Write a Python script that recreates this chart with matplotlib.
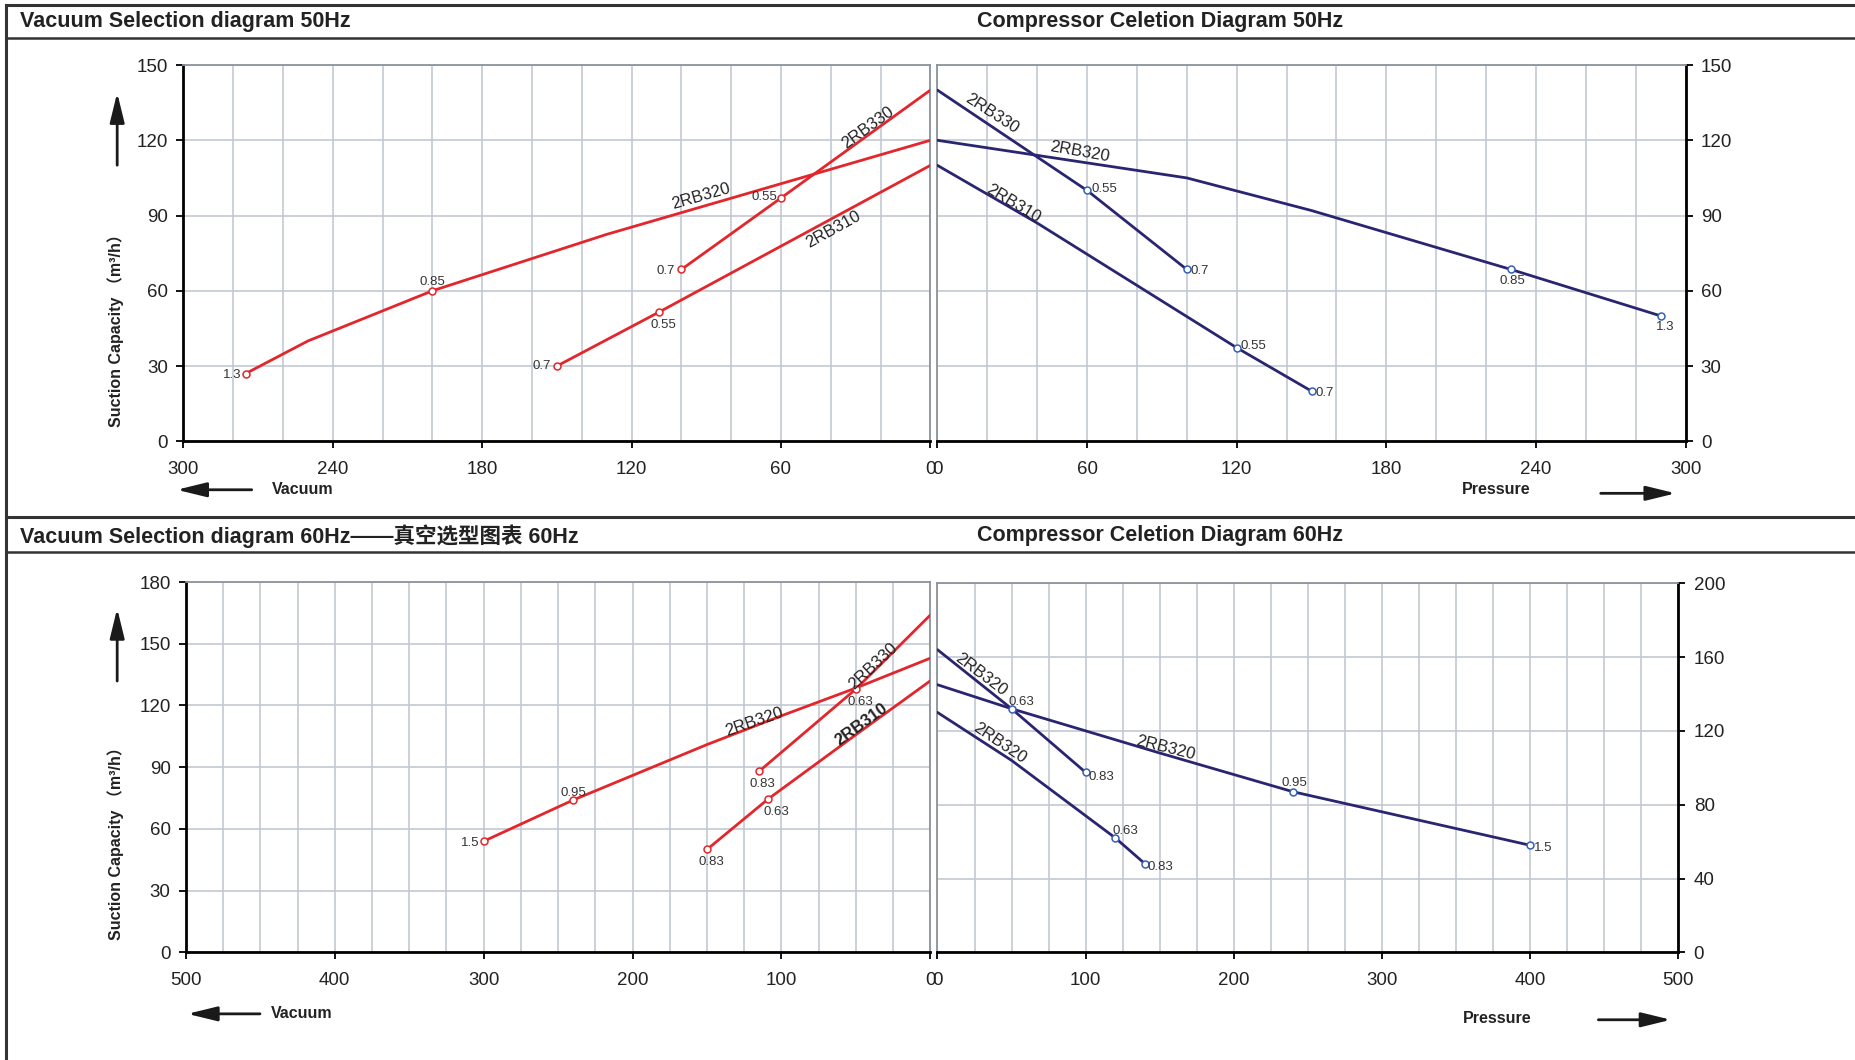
import matplotlib
matplotlib.use("Agg")
import matplotlib.pyplot as plt
from matplotlib.lines import Line2D
from matplotlib.patches import FancyArrowPatch

plt.rcParams['font.family'] = ['Liberation Sans', 'Noto Sans CJK SC', 'DejaVu Sans']

# ---- data ----
# 50 Hz vacuum (x = vacuum, y = suction capacity m3/h)
vac50_rb320_x = [275, 250, 200, 130, 0]
vac50_rb320_y = [27, 40, 60, 82.5, 120]
vac50_rb320_lab = ["1.3", None, "0.85", None, None]
vac50_rb330_x = [100, 60, 0]
vac50_rb330_y = [68.5, 97, 140]
vac50_rb330_lab = ["0.7", "0.55", None]
vac50_rb310_x = [150, 109, 0]
vac50_rb310_y = [30, 51.5, 110]
vac50_rb310_lab = ["0.7", "0.55", None]

# 50 Hz compressor (x = pressure)
comp50_rb330_x = [0, 60, 100]
comp50_rb330_y = [140, 100, 68.5]
comp50_rb330_lab = [None, "0.55", "0.7"]
comp50_rb320_x = [0, 100, 150, 230, 290]
comp50_rb320_y = [120, 105, 92, 68.5, 50]
comp50_rb320_lab = [None, None, None, "0.85", "1.3"]
comp50_rb310_x = [0, 40, 120, 150]
comp50_rb310_y = [110, 87, 37.3, 20]
comp50_rb310_lab = [None, None, "0.55", "0.7"]

# 60 Hz vacuum
vac60_rb320_x = [300, 240, 150, 100, 50, 0]
vac60_rb320_y = [54, 74, 101, 115, 128.5, 143]
vac60_rb320_lab = ["1.5", "0.95", None, None, None, None]
vac60_rb330_x = [115, 50, 0]
vac60_rb330_y = [88, 128, 164]
vac60_rb330_lab = ["0.83", "0.63", None]
vac60_rb310_x = [150, 109, 50, 0]
vac60_rb310_y = [50, 74.5, 105.8, 132]
vac60_rb310_lab = ["0.83", "0.63", None, None]

# 60 Hz compressor (all three curves are labelled 2RB320 in the source)
comp60_a_x = [0, 50, 100]
comp60_a_y = [164, 132, 97.5]
comp60_a_lab = [None, "0.63", "0.83"]
comp60_b_x = [0, 50, 150, 240, 400]
comp60_b_y = [145, 132, 108, 87, 58]
comp60_b_lab = [None, None, None, "0.95", "1.5"]
comp60_c_x = [0, 50, 120, 140]
comp60_c_y = [130, 104, 62, 48]
comp60_c_lab = [None, None, "0.63", "0.83"]

# ---- styling ----
RED = '#e3262b'
NAVY = '#2a2571'
BLUE_MK = '#3560b5'
GRID = '#c3c8d2'
FRAME = '#8b939d'
W, H = 1568.0, 896.0


def fx(x):
    return x / W


def fy(y):
    return 1 - y / H


fig = plt.figure(figsize=(18.56, 10.60), dpi=100)


def setup(ax, xlim, xmaj, xmin, ylim, ymaj, side):
    ax.set_xlim(xlim)
    ax.set_ylim(ylim)
    ax.set_xticks(xmaj)
    ax.set_xticks(xmin, minor=True)
    ax.set_yticks(ymaj)
    ax.grid(which='both', axis='x', color=GRID, lw=1.2)
    ax.grid(which='major', axis='y', color=GRID, lw=1.2)
    ax.set_axisbelow(True)
    ax.tick_params(which='minor', length=0)
    ax.tick_params(which='major', direction='out', length=5, width=1.3,
                   labelsize=13.5, pad=6, colors='black', labelcolor='#222')
    ax.tick_params(axis='x', which='major', pad=9)
    for s in ax.spines.values():
        s.set_color(FRAME)
        s.set_linewidth(1.3)
    ax.spines['bottom'].set_color('black')
    ax.spines['bottom'].set_linewidth(2)
    if side == 'left':
        ax.spines['left'].set_color('black')
        ax.spines['left'].set_linewidth(2)
    else:
        ax.spines['right'].set_color('black')
        ax.spines['right'].set_linewidth(2)
        ax.yaxis.tick_right()


def draw(ax, xs, ys, labs, color, mcolor, offsets):
    ax.plot(xs, ys, color=color, lw=2, zorder=3, solid_capstyle='round')
    pts = [(x, y, l) for x, y, l in zip(xs, ys, labs) if l]
    ax.plot([p[0] for p in pts], [p[1] for p in pts], 'o', ms=5, mfc='white',
            mec=mcolor, mew=1.1, zorder=4)
    for (x, y, l), (dx, dy, ha) in zip(pts, offsets):
        ax.annotate(l, (x, y), xytext=(dx, dy), textcoords='offset points',
                    ha=ha, va='center', fontsize=9.5, color='#333', zorder=5)


def curve_label(ax, txt, x, y, rot, weight='normal'):
    ax.text(x, y, txt, rotation=rot, ha='center', va='center', fontsize=12,
            color='#222', fontweight=weight, rotation_mode='anchor', zorder=5)


# ---- top left: vacuum 50 Hz ----
ax1 = fig.add_axes([fx(155), fy(373), 631 / W, 318 / H])
setup(ax1, (300, 0), range(0, 301, 60), range(0, 301, 20), (0, 150), range(0, 151, 30), 'left')
draw(ax1, vac50_rb320_x, vac50_rb320_y, vac50_rb320_lab, RED, RED,
     [(-3, -1, 'right'), (0, 6, 'center')])
draw(ax1, vac50_rb330_x, vac50_rb330_y, vac50_rb330_lab, RED, RED,
     [(-5, -1, 'right'), (-3, 1, 'right')])
draw(ax1, vac50_rb310_x, vac50_rb310_y, vac50_rb310_lab, RED, RED,
     [(-4, 0, 'right'), (3, -9, 'center')])
curve_label(ax1, '2RB320', 92, 97.6, 16)
curve_label(ax1, '2RB330', 25, 125, 36)
curve_label(ax1, '2RB310', 39, 84.4, 29)

# ---- top right: compressor 50 Hz ----
ax2 = fig.add_axes([fx(792), fy(373), 632 / W, 318 / H])
setup(ax2, (0, 300), range(0, 301, 60), range(0, 301, 20), (0, 150), range(0, 151, 30), 'right')
draw(ax2, comp50_rb330_x, comp50_rb330_y, comp50_rb330_lab, NAVY, BLUE_MK,
     [(3, 1, 'left'), (3, -1, 'left')])
draw(ax2, comp50_rb320_x, comp50_rb320_y, comp50_rb320_lab, NAVY, BLUE_MK,
     [(1, -8, 'center'), (3, -8, 'center')])
draw(ax2, comp50_rb310_x, comp50_rb310_y, comp50_rb310_lab, NAVY, BLUE_MK,
     [(3, 1, 'left'), (3, -1, 'left')])
curve_label(ax2, '2RB330', 21.8, 130.7, -33)
curve_label(ax2, '2RB320', 57, 115.6, -10)
curve_label(ax2, '2RB310', 30.4, 94.8, -31)

# ---- bottom left: vacuum 60 Hz ----
ax3 = fig.add_axes([fx(157), fy(805), 629 / W, 313 / H])
setup(ax3, (500, 0), range(0, 501, 100), range(0, 501, 25), (0, 180), range(0, 181, 30), 'left')
draw(ax3, vac60_rb320_x, vac60_rb320_y, vac60_rb320_lab, RED, RED,
     [(-3, -1, 'right'), (0, 5, 'center')])
draw(ax3, vac60_rb330_x, vac60_rb330_y, vac60_rb330_lab, RED, RED,
     [(2, -9, 'center'), (3, -9, 'center')])
draw(ax3, vac60_rb310_x, vac60_rb310_y, vac60_rb310_lab, RED, RED,
     [(3, -9, 'center'), (6, -9, 'center')])
curve_label(ax3, '2RB320', 118.4, 112.1, 19)
curve_label(ax3, '2RB330', 38.2, 139.2, 43)
curve_label(ax3, '2RB310', 46.1, 111, 36, 'semibold')

# ---- bottom right: compressor 60 Hz ----
ax4 = fig.add_axes([fx(792), fy(805), 626 / W, 312 / H])
setup(ax4, (0, 500), range(0, 501, 100), range(0, 501, 25), (0, 200), range(0, 201, 40), 'right')
draw(ax4, comp60_a_x, comp60_a_y, comp60_a_lab, NAVY, BLUE_MK,
     [(-2, 5, 'left'), (2, -3, 'left')])
draw(ax4, comp60_b_x, comp60_b_y, comp60_b_lab, NAVY, BLUE_MK,
     [(1, 6, 'center'), (3, -2, 'left')])
draw(ax4, comp60_c_x, comp60_c_y, comp60_c_lab, NAVY, BLUE_MK,
     [(-2, 5, 'left'), (2, -2, 'left')])
curve_label(ax4, '2RB320', 29.6, 150.6, -37)
curve_label(ax4, '2RB320', 42.3, 113.5, -34)
curve_label(ax4, '2RB320', 154, 111, -14)

# ---- frame lines and headers ----
for yy, lw in [(4, 2.2), (32, 1.8), (437, 2.2), (467, 1.8)]:
    fig.add_artist(Line2D([fx(5), 1], [fy(yy), fy(yy)], transform=fig.transFigure,
                          color='#333', lw=lw))
fig.add_artist(Line2D([fx(5), fx(5)], [fy(4), 0], transform=fig.transFigure,
                      color='#333', lw=2.2))

fig.text(fx(17), fy(18), 'Vacuum Selection diagram 50Hz', fontsize=15.5,
         fontweight='bold', ha='left', va='center', color='#222')
fig.text(fx(825), fy(18), 'Compressor Celetion Diagram 50Hz', fontsize=15.5,
         fontweight='bold', ha='left', va='center', color='#222')
fig.text(fx(17), fy(453), 'Vacuum Selection diagram 60Hz——真空选型图表 60Hz', fontsize=15.5,
         fontweight='bold', ha='left', va='center', color='#222')
fig.text(fx(825), fy(453), 'Compressor Celetion Diagram 60Hz', fontsize=15.5,
         fontweight='bold', ha='left', va='center', color='#222')

# y-axis titles and arrows
for yc, (ya, yb) in [(276, (142, 76)), (710, (578, 512))]:
    fig.text(fx(98), fy(yc), 'Suction Capacity （m³/h）', rotation=90, fontsize=11.5,
             fontweight='bold', ha='center', va='center', color='#222')
    fig.add_artist(FancyArrowPatch((fx(99), fy(ya)), (fx(99), fy(yb)),
                                   transform=fig.transFigure,
                                   arrowstyle='-|>,head_length=0.9,head_width=0.22',
                                   mutation_scale=20, color='#1a1a1a', lw=2))


def harrow(x0, x1, y):
    fig.add_artist(FancyArrowPatch((fx(x0), fy(y)), (fx(x1), fy(y)),
                                   transform=fig.transFigure,
                                   arrowstyle='-|>,head_length=0.9,head_width=0.22',
                                   mutation_scale=20, color='#1a1a1a', lw=2))


harrow(215, 147, 414)
fig.text(fx(230), fy(414), 'Vacuum', fontsize=11.5, fontweight='bold', ha='left', va='center', color='#222')
fig.text(fx(1235), fy(414), 'Pressure', fontsize=11.5, fontweight='bold', ha='left', va='center', color='#222')
harrow(1350, 1418, 417)

harrow(222, 156, 857)
fig.text(fx(229), fy(857), 'Vacuum', fontsize=11.5, fontweight='bold', ha='left', va='center', color='#222')
fig.text(fx(1236), fy(861), 'Pressure', fontsize=11.5, fontweight='bold', ha='left', va='center', color='#222')
harrow(1348, 1414, 862)

fig.savefig('out.png', dpi=100)
